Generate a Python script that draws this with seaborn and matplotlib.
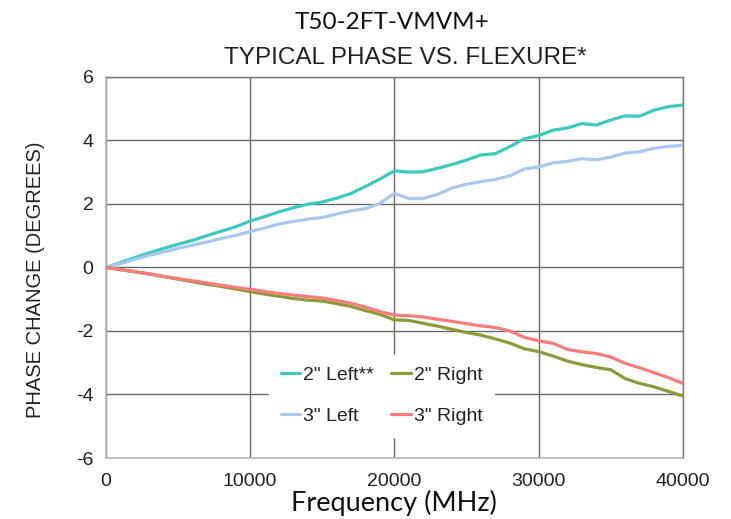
import matplotlib
matplotlib.use("Agg")
import matplotlib.pyplot as plt
import seaborn as sns
import pandas as pd

# Frequency sweep (MHz)
freq = [0, 1000, 2000, 3000, 4000, 5000, 6000, 7000, 8000, 9000,
        10000, 11000, 12000, 13000, 14000, 15000, 16000, 17000, 18000, 19000,
        20000, 21000, 22000, 23000, 24000, 25000, 26000, 27000, 28000, 29000,
        30000, 31000, 32000, 33000, 34000, 35000, 36000, 37000, 38000, 39000,
        40000]

# Phase change (degrees) per flexure condition
left_2in = [0, 0.15, 0.31, 0.46, 0.60, 0.73, 0.85, 1.00, 1.14, 1.28,
            1.46, 1.60, 1.75, 1.88, 1.99, 2.06, 2.18, 2.33, 2.55, 2.78,
            3.04, 3.00, 3.01, 3.12, 3.24, 3.38, 3.54, 3.58, 3.80, 4.05,
            4.15, 4.32, 4.39, 4.53, 4.48, 4.64, 4.77, 4.76, 4.95, 5.06,
            5.11]
left_3in = [0, 0.12, 0.25, 0.38, 0.49, 0.60, 0.70, 0.80, 0.91, 1.01,
            1.13, 1.24, 1.37, 1.45, 1.52, 1.57, 1.68, 1.78, 1.85, 2.02,
            2.33, 2.17, 2.17, 2.30, 2.50, 2.62, 2.70, 2.77, 2.88, 3.10,
            3.16, 3.29, 3.34, 3.42, 3.39, 3.47, 3.60, 3.64, 3.75, 3.81,
            3.84]
right_2in = [0, -0.07, -0.14, -0.21, -0.29, -0.37, -0.45, -0.53, -0.60, -0.68,
             -0.76, -0.84, -0.91, -0.98, -1.03, -1.06, -1.14, -1.23, -1.36, -1.48,
             -1.65, -1.67, -1.76, -1.85, -1.95, -2.05, -2.13, -2.25, -2.38, -2.56,
             -2.65, -2.79, -2.95, -3.06, -3.15, -3.22, -3.50, -3.65, -3.76, -3.90,
             -4.05]
right_3in = [0, -0.07, -0.13, -0.20, -0.28, -0.35, -0.42, -0.49, -0.56, -0.63,
             -0.69, -0.76, -0.82, -0.87, -0.92, -0.96, -1.04, -1.13, -1.25, -1.39,
             -1.50, -1.52, -1.56, -1.63, -1.70, -1.77, -1.84, -1.89, -2.00, -2.20,
             -2.31, -2.39, -2.58, -2.66, -2.71, -2.82, -3.02, -3.16, -3.31, -3.47,
             -3.65]

series_names = ['2" Left**', '3" Left', '2" Right', '3" Right']
series_values = [left_2in, left_3in, right_2in, right_3in]
series_colors = ["#3ec9bd", "#a8c8ee", "#8e993a", "#f87c7c"]

x_ticks = [0, 10000, 20000, 30000, 40000]
y_ticks = [-6, -4, -2, 0, 2, 4, 6]

df = pd.concat(
    [pd.DataFrame({"freq": freq, "phase": vals, "series": name})
     for name, vals in zip(series_names, series_values)],
    ignore_index=True,
)

sns.set_style("white")
plt.rcParams["font.family"] = ["Liberation Sans", "DejaVu Sans"]

fig = plt.figure(figsize=(7.31, 5.19), dpi=100)
ax = fig.add_axes([0.145, 0.1175, 0.789, 0.7345])

sns.lineplot(data=df, x="freq", y="phase", hue="series",
             hue_order=series_names, palette=series_colors,
             linewidth=2.3, ax=ax, legend=False, zorder=3)

ax.set_xlim(0, 40000)
ax.set_ylim(-6, 6)
ax.set_xticks(x_ticks)
ax.set_yticks(y_ticks)
ax.set_xticklabels([str(v) for v in x_ticks])
ax.set_yticklabels([str(v) for v in y_ticks])
ax.tick_params(axis="both", labelsize=14, labelcolor="#222222",
               length=6, width=1, color="#b0b0b0", direction="out")
ax.tick_params(axis="x", pad=5)
ax.tick_params(axis="y", pad=3)

ax.grid(True, color="#6a6a6a", linewidth=1.0, zorder=1)
ax.set_axisbelow(True)
for side in ("left", "bottom"):
    ax.spines[side].set_color("#b8b8b8")
    ax.spines[side].set_linewidth(1.2)
for side in ("top", "right"):
    ax.spines[side].set_color("#7a7a7a")
    ax.spines[side].set_linewidth(1.0)

ax.set_xlabel("Frequency (MHz)", fontsize=19.5, family=["Lato", "DejaVu Sans"],
              color="#111111", va="top")
ax.xaxis.set_label_coords(0.5, -0.084)
ax.set_ylabel("PHASE CHANGE (DEGREES)", fontsize=14.5, color="#222222",
              va="center")
ax.yaxis.set_label_coords(-0.123, 0.467)

handles = ax.get_lines()[:4]
leg = ax.legend(handles, series_names, ncol=2, loc="center",
                bbox_to_anchor=(0.478, 0.163), fontsize=14,
                frameon=True, facecolor="white", edgecolor="white",
                framealpha=1.0, handlelength=1.0, handletextpad=0.15,
                columnspacing=0.9, labelspacing=1.2, borderpad=0.6)
for t in leg.get_texts():
    t.set_color("#222222")
leg.set_zorder(5)

fig.text(0.536, 0.956, "T50-2FT-VMVM+", ha="center", va="center",
         fontsize=17.5, family=["Lato", "DejaVu Sans"], color="#111111")
fig.text(0.555, 0.889, "TYPICAL PHASE VS. FLEXURE*", ha="center",
         va="center", fontsize=17.5, color="#222222")

fig.savefig("out.png", dpi=100)
